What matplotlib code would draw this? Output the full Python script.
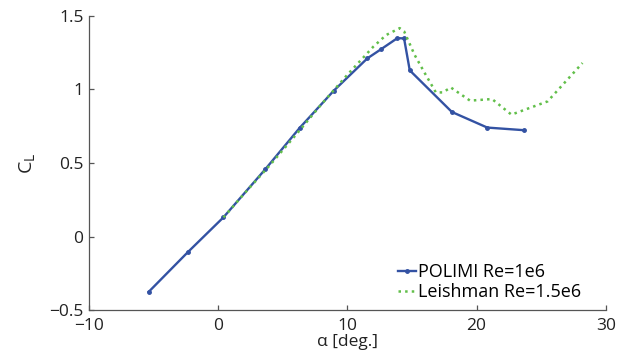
import matplotlib.pyplot as plt

plt.rcParams['font.family'] = ['Open Sans', 'DejaVu Sans']
plt.rcParams['mathtext.fontset'] = 'custom'
plt.rcParams['mathtext.rm'] = 'Open Sans'

# POLIMI Re=1e6
polimi_alpha = [-5.38, -2.35, 0.41, 3.65, 6.31, 8.95, 11.54, 12.58, 13.87, 14.39, 14.83, 18.09, 20.83, 23.70]
polimi_cl = [-0.376, -0.106, 0.131, 0.458, 0.739, 0.992, 1.211, 1.272, 1.349, 1.347, 1.13, 0.847, 0.741, 0.723]

# Leishman Re=1.5e6
leish_alpha = [0.41, 2.0, 4.0, 6.0, 8.0, 10.0, 12.0, 13.0, 14.05, 14.4, 15.2, 16.0, 16.85, 17.4, 18.0,
               19.5, 21.2, 22.7, 25.5, 28.2]
leish_cl = [0.13, 0.29, 0.485, 0.69, 0.90, 1.10, 1.29, 1.37, 1.417, 1.394, 1.236, 1.11, 0.98, 0.98, 1.014,
            0.924, 0.935, 0.829, 0.919, 1.18]

xticks = [-10, 0, 10, 20, 30]
xtick_labels = ['\u221210', '0', '10', '20', '30']
yticks = [-0.5, 0, 0.5, 1, 1.5]
ytick_labels = ['\u22120.5', '0', '0.5', '1', '1.5']

fig = plt.figure(figsize=(6.29, 3.54), dpi=100)
ax = fig.add_axes([0.1415, 0.124, 0.8215, 0.831])

ax.plot(polimi_alpha, polimi_cl, color='#3352a3', lw=1.7, marker='.', markersize=5,
        label='POLIMI Re=1e6')
ax.plot(leish_alpha, leish_cl, color='#62bf4a', lw=1.8, linestyle=':', label='Leishman Re=1.5e6')

ax.set_xlim(-10, 30)
ax.set_ylim(-0.5, 1.5)
ax.set_xticks(xticks)
ax.set_xticklabels(xtick_labels)
ax.set_yticks(yticks)
ax.set_yticklabels(ytick_labels)

for s in ['top', 'right']:
    ax.spines[s].set_visible(False)
for s in ['left', 'bottom']:
    ax.spines[s].set_color('#555555')
    ax.spines[s].set_linewidth(0.9)
ax.tick_params(direction='in', length=3.5, width=0.9, color='#555555', labelsize=12.5,
               labelcolor='#222222')
ax.tick_params(axis='x', pad=6)
ax.tick_params(axis='y', pad=4)

ax.set_xlabel('α [deg.]', fontsize=12.5, color='#222222', labelpad=0)
ax.set_ylabel('C$_{\\mathrm{L}}$', fontsize=14, color='#222222', labelpad=8)

ax.legend(loc='lower right', frameon=False, fontsize=13, handlelength=1.0, handletextpad=0.1,
          labelspacing=0.1, borderaxespad=0.1, bbox_to_anchor=(0.97, 0.0))

fig.savefig('out.png', dpi=100)
